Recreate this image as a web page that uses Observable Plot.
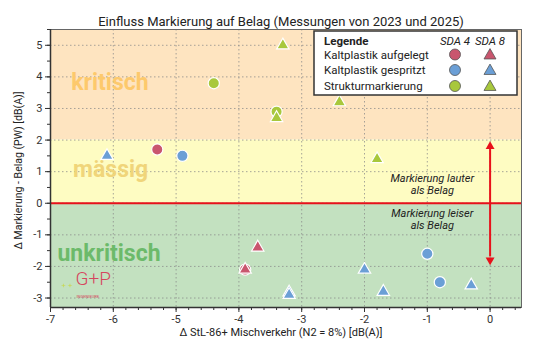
<!DOCTYPE html>
<html><head><meta charset="utf-8">
<script src="https://cdn.jsdelivr.net/npm/d3@7"></script>
<script src="https://cdn.jsdelivr.net/npm/@observablehq/plot@0.6"></script>
<style>
body{margin:0;background:#fff;font-family:Roboto,sans-serif}
#wrap{position:relative;width:533px;height:356px}
#legend{position:absolute;left:313px;top:30px}
</style></head><body><div id="wrap"></div>
<script>
const title = "Einfluss Markierung auf Belag (Messungen von 2023 und 2025)";
const xLabel = "Δ StL-86+ Mischverkehr (N2 = 8%) [dB(A)]";
const yLabel = "Δ Markierung - Belag (PW) [dB(A)]";
const types = ["Kaltplastik aufgelegt","Kaltplastik gespritzt","Strukturmarkierung"];
const typeColors = ["#c9566e","#6b9fd6","#a8c83c"];
const sdaLabels = ["SDA 4","SDA 8"];
const xDomain = [-7, 0.5];
const yDomain = [-3.3, 5.5];
const xTicks = [-7,-6,-5,-4,-3,-2,-1,0];
const yTicks = [-3,-2,-1,0,1,2,3,4,5];

// measurements
const ptType = [0,0,0,0, 1,1,1,1,1,1,1,1,1, 2,2,2,2,2,2];
const ptSda  = [4,4,8,8, 4,4,4,8,8,8,8,8,8, 4,4,8,8,8,8];
const ptX = [-5.3,-3.9,-3.7,-3.9, -4.9,-1.0,-0.8,-6.1,-2.0,-1.7,-0.3,-3.2,-3.2, -4.4,-3.4,-3.3,-2.4,-3.4,-1.8];
const ptY = [1.7,-2.1,-1.4,-2.1, 1.5,-1.6,-2.5,1.5,-2.1,-2.8,-2.6,-2.82,-2.9, 3.8,2.9,5.0,3.2,2.7,1.4];

// zones
const zoneNames = ["kritisch","mässig","unkritisch"];
const zoneLo = [2, 0, yDomain[0]];
const zoneHi = [yDomain[1], 2, 0];
const zoneFill = ["#fee4c0","#fefcc2","#c3e1c0"];
const zoneTextColor = ["#fdc96c","#f0d57a","#6cba6a"];
const zoneLabelX = [-6.67, -6.64, -6.89];
const zoneLabelY = [3.83, 1.07, -1.58];

const noteLines = [["Markierung lauter","als Belag"],["Markierung leiser","als Belag"]];
const noteX = -0.92;
const noteY = [0.6, -0.5];
const arrowEnd = 1.8;

const pts = ptX.map((x,i)=>({x, y: ptY[i], type: types[ptType[i]], sda: ptSda[i]}));

const marks = [];
zoneNames.forEach((z,i)=>{
  marks.push(Plot.rect([z], {x1: xDomain[0], x2: xDomain[1], y1: zoneLo[i], y2: zoneHi[i], fill: zoneFill[i]}));
});
marks.push(Plot.gridX({ticks: xTicks, stroke:"#888", strokeOpacity:0.75, strokeDasharray:"1.5,2.5"}));
marks.push(Plot.gridY({ticks: yTicks, stroke:"#888", strokeOpacity:0.75, strokeDasharray:"1.5,2.5"}));
zoneNames.forEach((z,i)=>{
  marks.push(Plot.text([z], {x: zoneLabelX[i], y: zoneLabelY[i], text: d=>d, textAnchor:"start", fontSize:23, fontWeight:"bold", fill: zoneTextColor[i]}));
});
marks.push(Plot.ruleY([0], {stroke:"#e8111a", strokeWidth:2}));
marks.push(Plot.ruleX([0], {y1: -arrowEnd+0.1, y2: arrowEnd-0.1, stroke:"#e8111a", strokeWidth:2}));
marks.push(Plot.dot([arrowEnd], {x: 0, y: d=>d, symbol:"triangle", r:3.3, fill:"#e8111a"}));
marks.push(Plot.dot([-arrowEnd], {x: 0, y: d=>d, symbol:"triangle", r:3.3, fill:"#e8111a", rotate:180}));
noteLines.forEach((ls,i)=>{
  marks.push(Plot.text([ls.join("\n")], {x: noteX, y: noteY[i], text: d=>d, fontSize:11, fontStyle:"italic", fill:"#222", lineHeight:1.1}));
});
marks.push(Plot.dot(pts.filter(d=>d.sda===4), {x:"x", y:"y", fill:"type", symbol:"circle", r:5.6, stroke:"white", strokeWidth:1.2}));
marks.push(Plot.dot(pts.filter(d=>d.sda===8), {x:"x", y:"y", fill:"type", symbol:"triangle", r:4.6, stroke:"white", strokeWidth:1.2}));
// logo
marks.push(Plot.text(["+ +"], {frameAnchor:"bottom-left", dx:11, dy:-20, text:d=>d, fill:"#c9d84a", fontSize:8, textAnchor:"start"}));
marks.push(Plot.text(["G+P"], {frameAnchor:"bottom-left", dx:25, dy:-23, text:d=>d, fill:"#d6455e", fontSize:19, fontWeight:300, textAnchor:"start"}));
marks.push(Plot.text(["INGENIEURE"], {frameAnchor:"bottom-left", dx:26, dy:-10, text:d=>d, fill:"#d6455e", fontSize:4, textAnchor:"start"}));
// frame & axes
marks.push(Plot.frame({stroke:"#666"}));
marks.push(Plot.ruleX([xDomain[0]], {stroke:"#333", strokeWidth:1.5}));
marks.push(Plot.ruleY([yDomain[0]], {stroke:"#333", strokeWidth:1.5}));
marks.push(Plot.axisX({ticks: d3.range(-7, 0.51, 0.2), tickSize:3, tickFormat:()=>"", label:null, stroke:"#333"}));
marks.push(Plot.axisX({ticks: xTicks, tickSize:5, tickPadding:3, tickFormat:d=>String(d), label:null, fontSize:11, stroke:"#333", fill:"#333"}));
marks.push(Plot.axisY({ticks: d3.range(-3, 5.51, 0.5), tickSize:3, tickFormat:()=>"", label:null, stroke:"#333"}));
marks.push(Plot.axisY({ticks: yTicks, tickSize:5, tickPadding:3, tickFormat:d=>String(d), label:null, fontSize:11, stroke:"#333", fill:"#333"}));
marks.push(Plot.text([title], {frameAnchor:"top", dx:-5, dy:-13, text:d=>d, fontSize:13, fill:"#222"}));
marks.push(Plot.text([xLabel], {frameAnchor:"bottom", dx:-5, dy:28, text:d=>d, fontSize:11, fill:"#222"}));
marks.push(Plot.text([yLabel], {frameAnchor:"left", dx:-32, dy:2, rotate:-90, textAnchor:"middle", text:d=>d, fontSize:10.5, fill:"#222"}));

const chart = Plot.plot({
  width:533, height:356, marginTop:29, marginBottom:49, marginLeft:50, marginRight:12,
  x:{domain:xDomain}, y:{domain:yDomain},
  color:{domain:types, range:typeColors},
  style:{fontFamily:"Roboto, sans-serif", fontSize:"11px", color:"#333", background:"white"},
  marks
});
const wrap = document.getElementById("wrap");
wrap.appendChild(chart);

// legend
const lg = d3.select(wrap).append("svg").attr("id","legend").attr("width",205).attr("height",66)
  .style("font-family","Roboto, sans-serif");
lg.append("rect").attr("x",1).attr("y",1).attr("width",203).attr("height",64).attr("fill","white").attr("stroke","#333").attr("stroke-width",1.5);
lg.append("text").attr("x",11).attr("y",15).attr("font-size",11.5).attr("font-weight","bold").attr("fill","#222").text("Legende");
const symX = [142, 177];
sdaLabels.forEach((s,j)=>lg.append("text").attr("x",symX[j]).attr("y",15).attr("text-anchor","middle").attr("font-size",11.5).attr("font-style","italic").attr("fill","#222").text(s));
const rowY = [24.5, 40, 56];
types.forEach((t,i)=>{
  lg.append("text").attr("x",11).attr("y",rowY[i]+4).attr("font-size",11.5).attr("fill","#222").text(t);
  lg.append("circle").attr("cx",symX[0]).attr("cy",rowY[i]).attr("r",5.5).attr("fill",typeColors[i]).attr("stroke","#555").attr("stroke-width",0.8);
  lg.append("path").attr("d",d3.symbol(d3.symbolTriangle, 62)()).attr("transform",`translate(${symX[1]},${rowY[i]+1})`).attr("fill",typeColors[i]).attr("stroke","#555").attr("stroke-width",0.8);
});
</script></body></html>
